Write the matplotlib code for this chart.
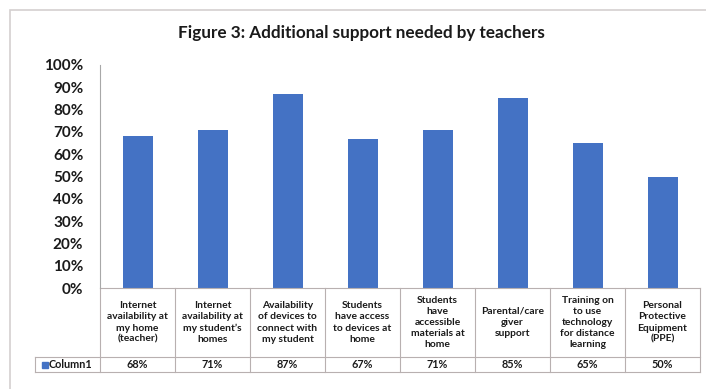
import matplotlib.pyplot as plt
from matplotlib import font_manager
from matplotlib.patches import Rectangle
import matplotlib.transforms as mtransforms

categories = [
    "Internet\navailability at\nmy home\n(teacher)",
    "Internet\navailability at\nmy student\u2019s\nhomes",
    "Availability\nof devices to\nconnect with\nmy student",
    "Students\nhave access\nto devices at\nhome",
    "Students\nhave\naccessible\nmaterials at\nhome",
    "Parental/care\ngiver\nsupport",
    "Training on\nto use\ntechnology\nfor distance\nlearning",
    "Personal\nProtective\nEquipment\n(PPE)",
]
values = [68, 71, 87, 67, 71, 85, 65, 50]
series_name = "Column1"
title = "Figure 3: Additional support needed by teachers"
y_ticks = [0, 10, 20, 30, 40, 50, 60, 70, 80, 90, 100]


def pick_font(names):
    available = {f.name for f in font_manager.fontManager.ttflist}
    for name in names:
        if name in available:
            return name
    return "DejaVu Sans"


body_font = pick_font(["Lato", "Open Sans", "DejaVu Sans"])
title_font = pick_font(["Liberation Sans Narrow", "DejaVu Sans Condensed", "Lato"])

bar_color = "#4472C4"
line_color = "#b8b0b0"
text_color = "#1a1a1a"

W, H = 706, 389
fig = plt.figure(figsize=(W / 100, H / 100), dpi=100)

# outer chart frame (cut off on the right and bottom)
fig.patches.append(Rectangle((10 / W, -0.1), 1.2, 1 - 10 / H + 0.1,
                             transform=fig.transFigure, fill=False,
                             edgecolor="#d4d0d0", linewidth=1.2))

ax = fig.add_axes([100 / W, 101 / H, 600 / W, 223 / H])
x = list(range(len(values)))
ax.bar(x, values, width=0.4, color=bar_color)

ax.set_xlim(-0.5, len(values) - 0.5)
ax.set_ylim(0, 100)
ax.set_yticks(y_ticks)
ax.set_yticklabels([f"{t}%" for t in y_ticks], fontfamily=body_font,
                   fontweight="bold", fontsize=11, color=text_color)
ax.tick_params(axis="y", length=0, pad=12)
ax.set_xticks([])
for side in ["top", "right", "bottom"]:
    ax.spines[side].set_visible(False)
ax.spines["left"].set_color("#a8a8a8")
ax.spines["left"].set_linewidth(0.8)

fig.text(0.5 + 8 / W, 1 - 33 / H, title, ha="center", va="center",
         fontfamily=title_font, fontweight="bold", fontsize=12.3, color=text_color)

# data table below the plot: x in data units, y in axes fraction
tr = mtransforms.blended_transform_factory(ax.transData, ax.transAxes)
head_bot = -69 / 223
row_bot = -84 / 223
left_edge = -0.5 - 65 / 75
n = len(values)

line_kw = dict(color=line_color, linewidth=0.8, transform=tr, clip_on=False)
ax.plot([-0.5, n - 0.5], [0, 0], **line_kw)
ax.plot([left_edge, n - 0.5], [head_bot, head_bot], **line_kw)
ax.plot([left_edge, n - 0.5], [row_bot, row_bot], **line_kw)
ax.plot([left_edge, left_edge], [head_bot, row_bot], **line_kw)
for i in range(n + 1):
    ax.plot([i - 0.5, i - 0.5], [0, row_bot], **line_kw)

for i, (label, v) in enumerate(zip(categories, values)):
    ax.text(i, head_bot / 2, label, transform=tr, ha="center", va="center",
            fontfamily=body_font, fontweight="bold", fontsize=7.4,
            linespacing=1.3, color=text_color)
    ax.text(i, (head_bot + row_bot) / 2, f"{v}%", transform=tr, ha="center",
            va="center", fontfamily=body_font, fontweight="bold", fontsize=7.8,
            color=text_color)

ax.plot([-0.5 - 55 / 75], [(head_bot + row_bot) / 2], marker="s", markersize=4.5,
        color=bar_color, transform=tr, clip_on=False)
ax.text(-0.5 - 51 / 75, (head_bot + row_bot) / 2, series_name, transform=tr,
        ha="left", va="center", fontfamily=body_font, fontweight="bold",
        fontsize=7.8, color=text_color)

fig.savefig("out.png", dpi=100)
